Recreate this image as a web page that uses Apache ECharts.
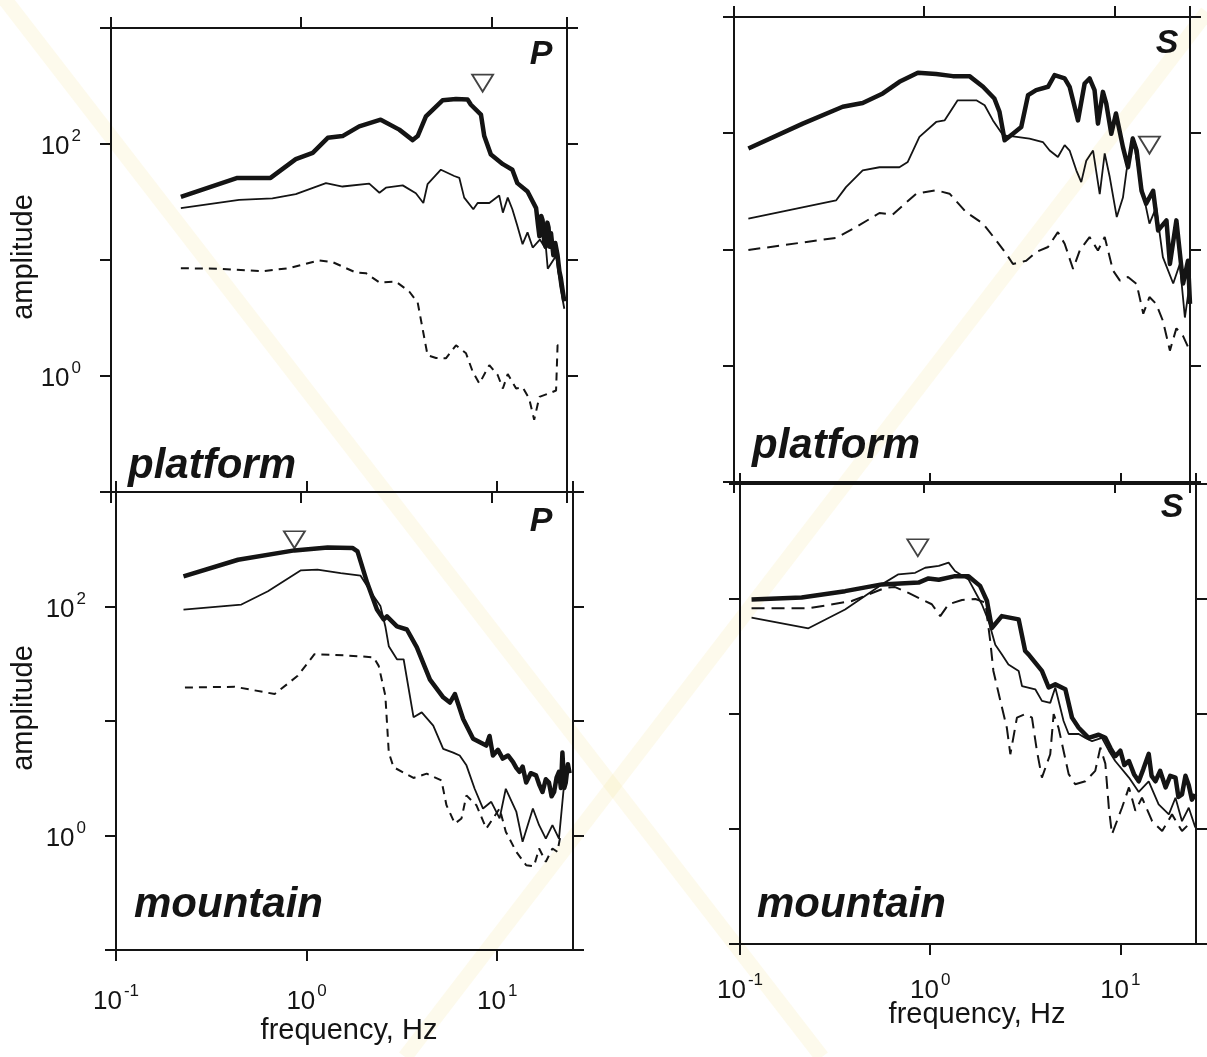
<!DOCTYPE html>
<html><head><meta charset="utf-8">
<script src="https://cdn.jsdelivr.net/npm/echarts@6/dist/echarts.min.js"></script>
<style>html,body{margin:0;padding:0;background:#fff}#c{width:1207px;height:1057px}</style>
</head><body><div id="c"></div>
<script>
// ---- data: [frequency Hz, amplitude] ----
const platformP_thick = [[0.233,35],[0.462,51],[0.69,51],[0.937,74],[1.15,84],[1.38,113],[1.65,117],[2.02,142],[2.62,162],[3.28,133],[3.86,108],[4.1,117],[4.53,173],[5.54,238],[6.52,244],[7.5,242],[7.81,218],[8.82,179],[9.18,117],[9.95,81],[11.5,67],[12.9,60],[13.7,46],[15.5,39],[17.2,28],[17.6,20],[17.9,16],[18.3,24],[18.6,22],[19.0,14],[19.3,13],[19.7,21],[20.0,19],[20.3,13],[20.6,17],[21.2,11],[21.7,14],[22.3,11],[22.8,8],[23.2,7],[23.7,5.5],[24.2,4.4]];
const platformP_thin = [[0.233,28],[0.472,33],[0.706,34],[0.937,37],[1.35,46],[1.65,43],[2.28,45.5],[2.58,38],[2.79,42],[3.42,44],[4.01,37.6],[4.39,31],[4.62,45],[5.43,60],[6.38,53],[6.79,51],[7.2,34.5],[8.04,27.4],[8.47,31],[9.76,31],[11.0,36],[11.5,25.6],[12.2,34.5],[12.9,27.4],[13.7,19.7],[14.6,13.7],[15.5,17.3],[16.5,12.8],[18.0,15],[19.4,12.4],[19.8,8.4],[21.9,10.9],[23.0,6],[24.2,3.8]];
const platformP_dash = [[0.233,8.5],[0.37,8.4],[0.625,8.0],[0.86,8.5],[1.24,9.9],[1.46,9.6],[1.94,7.8],[2.19,7.7],[2.58,6.4],[3.15,6.5],[3.7,5.35],[4.1,4.3],[4.35,2.56],[4.62,1.51],[5.12,1.43],[5.77,1.42],[6.52,1.84],[7.36,1.57],[7.98,1.09],[8.65,0.86],[9.76,1.24],[10.8,1.02],[11.5,0.78],[12.2,1.04],[13.5,0.78],[14.6,0.8],[15.8,0.64],[16.8,0.42],[17.9,0.66],[20.2,0.71],[21.9,0.75],[22.3,1.84],[24.2,1.84]];
const platformP_corner = [[9.0,335]];

const platformS_thick = [[0.119,74],[0.23,121],[0.373,169],[0.475,182],[0.606,220],[0.741,277],[0.927,331],[1.156,323],[1.415,310],[1.73,310],[2.04,251],[2.34,199],[2.49,153],[2.65,87],[2.93,99],[3.24,113],[3.52,213],[3.88,235],[4.48,251],[4.85,316],[5.48,296],[5.82,251],[6.44,129],[6.98,268],[7.41,296],[7.87,235],[8.2,121],[8.71,227],[9.07,180],[9.64,99],[10.2,148],[11.1,76],[11.8,51],[12.5,90],[13.1,71],[13.9,32],[14.7,24.8],[16.0,32],[17.0,14.6],[18.8,17.8],[19.6,7.5],[21.2,17.8],[23.0,5.1],[24.4,8.0],[25,3.4]];
const platformS_thin = [[0.119,18.4],[0.344,26.4],[0.388,34.4],[0.475,48],[0.582,51],[0.741,51],[0.82,56.6],[0.944,93],[1.156,125],[1.28,129],[1.5,192],[1.88,192],[2.08,174],[2.3,129],[2.6,96],[2.93,94],[3.58,90],[4.21,84],[4.57,71],[5.05,62.5],[5.48,79],[5.82,71],[6.31,48],[6.7,38],[7.12,58],[7.73,71],[8.38,30],[8.9,67],[9.46,42],[10.3,19],[11.1,28],[11.6,48],[12.5,93],[13.6,42],[15.3,16.7],[16.6,23],[18.0,8.6],[20.4,5.1],[22.1,7.5],[23.5,2.6],[24.9,5.1]];
const platformS_dash = [[0.119,9.9],[0.344,12.6],[0.439,15.6],[0.582,20.6],[0.684,20],[0.908,30.2],[1.156,32.3],[1.36,30.2],[1.66,21],[2.04,16.7],[2.39,12],[2.7,9.2],[2.93,7.5],[3.44,8],[3.88,9.5],[4.48,10.5],[5.05,14.1],[5.48,11.2],[6.07,6.8],[6.58,9.8],[7.41,12.8],[8.2,9.8],[8.9,12.8],[9.84,6.6],[10.7,5.4],[11.8,5.8],[13.1,5.06],[14.2,2.8],[15.3,3.9],[16.6,3.4],[18.0,2.44],[19.6,1.35],[21.2,2.1],[23.0,1.8],[24.9,1.35]];
const platformS_corner = [[15.3,79]];

const mountainP_thick = [[0.226,183],[0.437,256],[0.863,309],[1.29,328],[1.74,325],[1.85,303],[2.08,161],[2.34,94],[2.54,77],[2.64,82],[2.98,67],[3.36,63],[3.79,44],[4.44,23],[5.21,16.1],[5.65,14.5],[6.0,17.2],[6.63,10.4],[7.48,7.0],[8.77,6.1],[9.12,7.4],[9.5,5.0],[10.1,5.6],[10.7,4.7],[11.4,5.0],[12.1,4.4],[12.6,3.9],[13.1,3.6],[13.6,4.0],[14.2,2.9],[15.0,3.5],[16.0,3.35],[16.6,2.8],[17.3,2.4],[18.0,3.1],[18.7,2.9],[19.3,2.2],[19.9,2.4],[20.5,3.2],[21.1,3.6],[21.6,2.6],[22.0,5.3],[22.5,2.6],[22.9,2.9],[23.5,4.2],[24,3.5]];
const mountainP_thin = [[0.226,94],[0.455,104],[0.627,136],[0.934,207],[1.14,210],[1.51,196],[1.92,186],[2.25,123],[2.44,101],[2.59,67],[2.7,45],[2.98,34.6],[3.23,34.6],[3.64,10.8],[4.02,11.9],[4.62,9.1],[5.21,5.7],[5.88,5.3],[6.36,5.0],[6.9,4.1],[7.62,2.56],[8.43,1.72],[9.31,1.97],[10.3,1.41],[11.1,2.56],[12.6,1.62],[13.6,0.88],[15.4,1.72],[16.6,1.23],[18.0,0.94],[19.5,1.23],[21.1,0.94],[22.4,2.7]];
const mountainP_dash = [[0.23,19.6],[0.42,19.9],[0.68,17.2],[0.898,24.8],[1.1,38.3],[1.57,37.5],[2.25,36],[2.39,30.3],[2.59,16.6],[2.7,5.3],[2.86,3.95],[3.64,3.18],[4.27,3.47],[5.1,3.03],[5.42,1.84],[6.0,1.27],[6.5,1.41],[6.9,2.24],[7.78,1.84],[8.77,1.15],[10.3,1.72],[11.1,1.08],[12.6,0.72],[14.2,0.55],[15.6,0.54],[16.6,0.77],[18.0,0.59],[19.5,0.77],[20.7,0.72],[21.5,1.0]];
const mountainP_corner = [[0.863,383]];

const mountainS_thick = [[0.115,99],[0.211,103],[0.357,117],[0.557,134],[0.869,139],[0.98,151],[1.11,147],[1.35,158],[1.59,158],[1.83,130],[1.99,96],[2.11,56],[2.38,71],[2.92,66.5],[3.16,35.3],[3.29,33],[3.87,23.7],[4.2,17],[4.55,18.1],[5.14,16.4],[5.57,9.3],[6.04,7.6],[6.81,6.2],[7.69,6.6],[8.34,6.2],[8.9,5.0],[9.41,4.3],[10.0,4.8],[10.5,3.6],[11.1,3.9],[11.8,3.0],[12.5,2.6],[13.2,3.3],[14.1,4.5],[14.6,2.9],[15.3,2.6],[16.2,3.2],[17.3,2.3],[18.3,2.9],[19.5,2.8],[20.2,1.9],[21.1,2.0],[22.0,2.9],[22.9,2.4],[23.8,1.8],[24.8,2.0]];
const mountainS_thin = [[0.115,69],[0.229,55.6],[0.357,81],[0.557,134],[0.681,164],[0.834,169],[0.941,187],[1.11,194],[1.25,207],[1.35,175],[1.59,148],[1.87,90],[2.03,64],[2.2,40],[2.38,33],[2.58,27],[2.92,23.7],[3.04,17.5],[3.57,16.4],[3.87,13],[4.28,12.5],[4.55,17],[5.03,8.7],[5.35,6.7],[6.04,6.7],[6.55,6.2],[7.1,5.8],[8.0,6.2],[8.7,4.8],[9.4,3.9],[11.1,2.8],[12.5,2.1],[14.1,2.6],[15.9,1.64],[18.0,1.34],[19.5,1.87],[21.1,1.17],[22.9,1.53],[24.8,1.03]];
const mountainS_dash = [[0.115,83],[0.229,83],[0.387,96],[0.58,125],[0.654,127],[0.769,113],[0.904,99],[1.02,90],[1.13,71],[1.25,90],[1.47,98],[1.73,100],[1.95,93],[2.07,43],[2.15,23.7],[2.34,13],[2.53,7.6],[2.64,4.47],[2.86,9.3],[3.16,10],[3.43,9.3],[3.64,4.8],[3.87,2.8],[4.28,4.47],[4.46,10],[4.73,7.6],[5.35,3.0],[5.79,2.45],[6.55,2.6],[7.38,3.2],[7.85,5.1],[8.34,3.7],[8.7,1.53],[9.04,0.9],[10.2,1.53],[11.1,2.3],[12.0,1.44],[13.0,1.87],[14.7,1.17],[16.6,0.96],[18.7,1.34],[21.1,0.96],[23.8,1.17]];
const mountainS_corner = [[0.861,279]];

const xTickValues = [0.1, 1, 10];
const yTickValues = [1, 100];
const panelNames = ['platform', 'mountain', 'platform', 'mountain'];
const phaseNames = ['P', 'P', 'S', 'S'];
const xRange = [0.1, 25];
const yRange = [0.1, 1000];

// ---- layout ----
const FONT = "'Liberation Sans', Arial, Helvetica, sans-serif";
const INK = '#141414';
const grids = [
  {left: 111, top: 28, width: 456, height: 464},
  {left: 116, top: 492, width: 457, height: 458},
  {left: 734, top: 17, width: 456, height: 465},
  {left: 740, top: 484, width: 456, height: 460}
];
const panels = [
  {thick: platformP_thick, thin: platformP_thin, dash: platformP_dash, corner: platformP_corner, dashType: [8, 6], xLabels: false, yLabels: true},
  {thick: mountainP_thick, thin: mountainP_thin, dash: mountainP_dash, corner: mountainP_corner, dashType: [8, 6], xLabels: true, yLabels: true},
  {thick: platformS_thick, thin: platformS_thin, dash: platformS_dash, corner: platformS_corner, dashType: [12, 7], xLabels: false, yLabels: false},
  {thick: mountainS_thick, thin: mountainS_thin, dash: mountainS_dash, corner: mountainS_corner, dashType: [13, 7], xLabels: true, yLabels: false}
];

function isIn(list, v) { return list.some(t => Math.abs(t - v) / t < 1e-6); }
function powLabel(list) {
  return function (v) {
    if (!isIn(list, v)) return '';
    const e = Math.round(Math.log10(v));
    return '{b|10}{s|' + e + '}';
  };
}
const rich = {
  b: {fontSize: 26, fontFamily: FONT, color: INK, lineHeight: 32, verticalAlign: 'bottom'},
  s: {fontSize: 17, fontFamily: FONT, color: INK, lineHeight: 18, verticalAlign: 'top', padding: [0, 0, 0, 2]}
};
const tickStyle = {show: true, inside: false, length: 11, lineStyle: {color: INK, width: 2}};
const lineStyle = {show: true, onZero: false, lineStyle: {color: INK, width: 2}};

const xAxis = [], yAxis = [], series = [];
panels.forEach((p, i) => {
  xAxis.push({gridIndex: i, type: 'log', logBase: 10, min: xRange[0], max: xRange[1], position: 'bottom',
    axisLine: lineStyle, axisTick: tickStyle, splitLine: {show: false}, minorTick: {show: false},
    axisLabel: {show: p.xLabels, formatter: powLabel(xTickValues), rich: rich, margin: i === 1 ? 33 : 28, showMaxLabel: false}});
  xAxis.push({gridIndex: i, type: 'log', logBase: 10, min: xRange[0], max: xRange[1], position: 'top',
    axisLine: lineStyle, axisTick: tickStyle, splitLine: {show: false}, axisLabel: {show: false}});
  yAxis.push({gridIndex: i, type: 'log', logBase: 10, min: yRange[0], max: yRange[1], position: 'left',
    axisLine: lineStyle, axisTick: tickStyle, splitLine: {show: false},
    axisLabel: {show: p.yLabels, formatter: powLabel(yTickValues), rich: rich, margin: 30}});
  yAxis.push({gridIndex: i, type: 'log', logBase: 10, min: yRange[0], max: yRange[1], position: 'right',
    axisLine: lineStyle, axisTick: tickStyle, splitLine: {show: false}, axisLabel: {show: false}});
  const xi = i * 2, yi = i * 2;
  const base = {type: 'line', xAxisIndex: xi, yAxisIndex: yi, showSymbol: false, symbol: 'none', silent: true,
    clip: true, animation: false, color: INK};
  series.push(Object.assign({}, base, {name: 'dash' + i, data: p.dash, lineStyle: {color: INK, width: 2, type: p.dashType}, z: 3}));
  series.push(Object.assign({}, base, {name: 'thin' + i, data: p.thin, lineStyle: {color: INK, width: 1.8}, z: 4}));
  series.push(Object.assign({}, base, {name: 'thick' + i, data: p.thick, lineStyle: {color: INK, width: 4.5, join: 'round'}, z: 5}));
  series.push({type: 'scatter', xAxisIndex: xi, yAxisIndex: yi, data: p.corner, symbol: 'triangle', symbolRotate: 180,
    symbolSize: [21, 17], itemStyle: {color: '#fff', borderColor: INK, borderWidth: 1.8}, silent: true, animation: false, z: 6});
});

const textEls = [];
function addText(txt, x, y, opts) {
  textEls.push(Object.assign({type: 'text', x: x, y: y, z: 20, style: Object.assign({
    text: txt, fill: INK, fontFamily: FONT, fontSize: 26,
    textAlign: 'center', textVerticalAlign: 'middle', align: 'center', verticalAlign: 'middle'}, opts.style || {})}, opts.el || {}));
}
// panel corner labels and site names
const phasePos = [[541, 55], [541, 522], [1167, 44], [1172, 508]];
const sitePos = [[128, 466], [134, 905], [752, 446], [757, 905]];
panels.forEach((p, i) => {
  addText(phaseNames[i], phasePos[i][0], phasePos[i][1], {style: {fontSize: 34, fontWeight: 'bold', fontStyle: 'italic'}});
  addText(panelNames[i], sitePos[i][0], sitePos[i][1], {style: {fontSize: 42, fontWeight: 'bold', fontStyle: 'italic', textAlign: 'left', align: 'left'}});
});
addText('amplitude', 24, 257, {el: {rotation: Math.PI / 2}, style: {fontSize: 29}});
addText('amplitude', 24, 708, {el: {rotation: Math.PI / 2}, style: {fontSize: 29}});
addText('frequency, Hz', 349, 1031, {style: {fontSize: 29}});
addText('frequency, Hz', 977, 1015, {style: {fontSize: 29}});

// faint diagonal watermark of the scanned page
const WM = 'rgba(246, 232, 160, 0.2)';
const wm = [
  {type: 'line', z: -10, shape: {x1: 0, y1: -7, x2: 822, y2: 1057}, style: {stroke: WM, lineWidth: 15}},
  {type: 'line', z: -10, shape: {x1: 1207, y1: 12, x2: 405, y2: 1057}, style: {stroke: WM, lineWidth: 15}}
];

const chart = echarts.init(document.getElementById('c'), null, {renderer: 'canvas'});
chart.setOption({
  backgroundColor: '#ffffff',
  animation: false,
  grid: grids.map(g => Object.assign({containLabel: false, show: false}, g)),
  xAxis: xAxis,
  yAxis: yAxis,
  series: series,
  graphic: {elements: wm.concat(textEls)}
});
</script></body></html>
